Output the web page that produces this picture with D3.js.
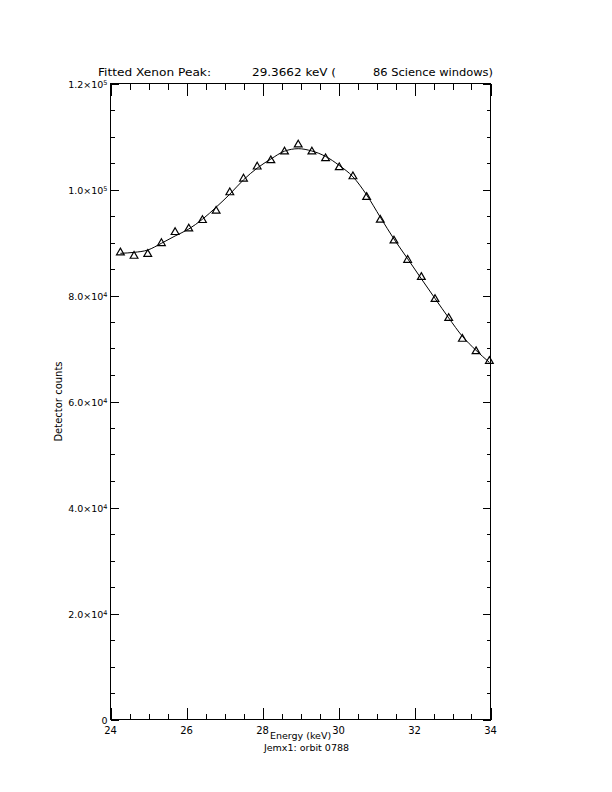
<!DOCTYPE html>
<html>
<head>
<meta charset="utf-8">
<script src="https://cdn.jsdelivr.net/npm/d3@7"></script>
<style>
  html, body { margin: 0; padding: 0; background: #fff; }
  svg { display: block; }
  text { font-family: "DejaVu Sans", sans-serif; fill: #000; }
</style>
</head>
<body>
<svg id="chart" width="612" height="792"></svg>
<script>
// ---- data ----
const energies = [24.26, 24.62, 24.98, 25.34, 25.70, 26.06, 26.42, 26.78, 27.14, 27.50,
                  27.86, 28.22, 28.58, 28.94, 29.30, 29.66, 30.02, 30.38, 30.74, 31.10,
                  31.46, 31.82, 32.18, 32.54, 32.90, 33.26, 33.62, 33.97];
const counts = [88100, 87450, 87820, 89850, 91930, 92610, 94200, 95960, 99430, 102020,
                104290, 105480, 107130, 108450, 107130, 105860, 104160, 102450, 98560, 94260,
                90340, 86690, 83470, 79310, 75710, 71790, 69460, 67630];
const fitCounts = [87960, 88140, 88580, 89850, 91230, 92550, 94390, 96660, 99120, 101830,
                   104040, 105750, 107230, 107700, 107260, 106240, 104540, 102400, 98990, 94770,
                   90660, 86930, 83150, 79440, 75770, 72300, 69650, 67380];
const xMajorTicks = [24, 26, 28, 30, 32, 34];
const xTickLabels = ["24", "26", "28", "30", "32", "34"];
const yMajorTicks = [0, 20000, 40000, 60000, 80000, 100000, 120000];
const yTickMantissa = ["0", "2.0", "4.0", "6.0", "8.0", "1.0", "1.2"];
const yTickExponent = ["", "4", "4", "4", "4", "5", "5"];
const titleParts = ["Fitted Xenon Peak:", "29.3662 keV (", "86 Science windows)"];
const xTitle = "Energy (keV)";
const subTitle = "Jemx1: orbit 0788";
const yTitle = "Detector counts";

// ---- layout ----
const L = 110.5, R = 490.5, T = 83.5, B = 719.5;
const svg = d3.select("#chart");
const x = d3.scaleLinear().domain([24, 34]).range([L, R]);
const y = d3.scaleLinear().domain([0, 120000]).range([B, T]);

const xMinor = d3.range(24, 34.0001, 0.5);
const yMinor = d3.range(0, 120001, 5000);

// frame
svg.append("rect").attr("x", L).attr("y", T).attr("width", R - L).attr("height", B - T)
  .attr("fill", "none").attr("stroke", "#000").attr("stroke-width", 1);

const g = svg.append("g").attr("stroke", "#000").attr("stroke-width", 1).attr("shape-rendering", "crispEdges");
// x ticks bottom & top
xMinor.forEach(v => {
  const major = xMajorTicks.some(m => Math.abs(m - v) < 1e-6);
  const len = major ? 12 : 6;
  const px = Math.round(x(v)) + 0.5;
  g.append("line").attr("x1", px).attr("x2", px).attr("y1", B).attr("y2", B - len);
  g.append("line").attr("x1", px).attr("x2", px).attr("y1", T).attr("y2", T + len);
});
// y ticks left & right
yMinor.forEach(v => {
  const major = yMajorTicks.includes(v);
  const len = major ? 8 : 4;
  const py = Math.round(y(v)) + 0.5;
  g.append("line").attr("x1", L).attr("x2", L + len).attr("y1", py).attr("y2", py);
  g.append("line").attr("x1", R).attr("x2", R - len).attr("y1", py).attr("y2", py);
});

// x tick labels
svg.selectAll(".xl").data(xMajorTicks).enter().append("text")
  .attr("x", d => x(d)).attr("y", B + 14).attr("text-anchor", "middle")
  .attr("font-size", 10).text((d, i) => xTickLabels[i]);

// y tick labels
yMajorTicks.forEach((v, i) => {
  const t = svg.append("text").attr("x", L - 3).attr("y", y(v) + 4)
    .attr("text-anchor", "end").attr("font-size", 9.5);
  if (yTickExponent[i] === "") {
    t.text(yTickMantissa[i]);
  } else {
    t.append("tspan").text(yTickMantissa[i] + "\u00d710");
    t.append("tspan").attr("font-size", 6.5).attr("dy", -2.5).text(yTickExponent[i]);
  }
});

// titles
const ty = 76;
svg.append("text").attr("x", 98).attr("y", ty).attr("font-size", 11)
  .attr("textLength", 113).attr("lengthAdjust", "spacingAndGlyphs").text(titleParts[0]);
svg.append("text").attr("x", 252).attr("y", ty).attr("font-size", 11)
  .attr("textLength", 84).attr("lengthAdjust", "spacingAndGlyphs").text(titleParts[1]);
svg.append("text").attr("x", 373).attr("y", ty).attr("font-size", 11)
  .attr("textLength", 120).attr("lengthAdjust", "spacingAndGlyphs").text(titleParts[2]);

svg.append("text").attr("x", (L + R) / 2).attr("y", 739).attr("text-anchor", "middle")
  .attr("font-size", 9.5).text(xTitle);
svg.append("text").attr("x", (L + R) / 2 + 6).attr("y", 751).attr("text-anchor", "middle")
  .attr("font-size", 9.5).text(subTitle);
svg.append("text").attr("transform", `translate(62,${(T + B) / 2}) rotate(-90)`)
  .attr("text-anchor", "middle").attr("font-size", 10).text(yTitle);

// fit curve
svg.append("defs").append("clipPath").attr("id", "clip")
  .append("rect").attr("x", L).attr("y", T).attr("width", R - L).attr("height", B - T);
const line = d3.line().x((d, i) => x(energies[i])).y(d => y(d)).curve(d3.curveMonotoneX);
svg.append("path").datum(fitCounts).attr("d", line).attr("fill", "none")
  .attr("stroke", "#000").attr("stroke-width", 1).attr("clip-path", "url(#clip)");

// data triangles
const tri = d3.symbol().type(d3.symbolTriangle).size(26);
svg.selectAll(".pt").data(counts).enter().append("path")
  .attr("transform", (d, i) => `translate(${x(energies[i])},${y(d)})`)
  .attr("d", tri).attr("fill", "none").attr("stroke", "#000").attr("stroke-width", 1.2);
</script>
</body>
</html>
